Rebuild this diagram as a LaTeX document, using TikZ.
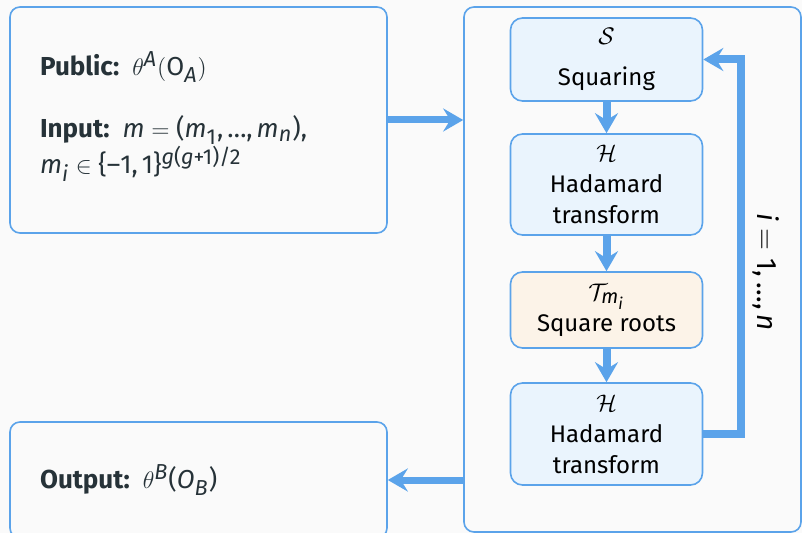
\documentclass[tikz,border=0pt]{standalone}
\usepackage{amsmath}
\usepackage{fontspec}
\setmainfont{Fira Sans}
\usepackage[italic]{mathastext}
\usepackage{xcolor}
\usetikzlibrary{arrows.meta}
\definecolor{customcolor1}{HTML}{5BA3EA}
\definecolor{customcolor2}{HTML}{EAF4FD}
\definecolor{customcolor3}{HTML}{FCF3E8}
\definecolor{customcolor4}{HTML}{FAFAFA}
\definecolor{customcolor5}{HTML}{263238}

\tikzset{
    outerbox/.style = {rectangle, draw = customcolor1, line width = 0.8pt, fill = customcolor4, rounded corners = 5pt},
    innerbox/.style = {rectangle, draw = customcolor1, line width = 0.8pt, fill = customcolor2, rounded corners = 6pt, minimum width = 96pt, align = center, font = \fontsize{12}{15.5}\selectfont},
    flow/.style = {-{Stealth[length = 10pt, width = 11.5pt, inset = 3.5pt]}, line width = 4pt, color = customcolor1},
    infotext/.style = {anchor = west, text = customcolor5, font = \fontsize{13}{15}\selectfont}
}

\begin{document}
\begin{tikzpicture}[x = 0.5pt, y = -0.5pt]
        % Background
        \fill [customcolor4] (0, 0) rectangle (802, 533);
        \useasboundingbox (0, 0) rectangle (802, 533);

        % Outer boxes
        \node [outerbox, minimum width = 188.5pt, minimum height = 113pt] (public) at (198.5, 120) {};
        \node [outerbox, minimum width = 188.5pt, minimum height = 58pt] (output) at (198.5, 480) {};
        \node [outerbox, minimum width = 168.5pt, minimum height = 262.5pt] (loop) at (632.5, 269.5) {};

        % Inner boxes
        \node [innerbox, minimum height = 41.5pt] (sq) at (606.5, 59.5) {$\mathcal{S}$\\[5pt]Squaring};
        \node [innerbox, minimum height = 50.5pt] (hada) at (606.5, 184.5) {$\mathcal{H}$\\Hadamard\\transform};
        \node [innerbox, fill = customcolor3, minimum height = 38pt] (sqrt) at (606.5, 310) {$\mathcal{T}_{m_i}$\\Square roots};
        \node [innerbox, minimum height = 51pt] (hadb) at (606.5, 434) {$\mathcal{H}$\\Hadamard\\transform};

        % Texts
        \node [infotext] (pub) at (33, 67) {\textbf{Public:}\enspace$\theta^A(\mathrm{O}_A)$};
        \node [infotext] (inp) at (33, 130) {\textbf{Input:}\enspace$m = \text{(}m_{\text{1}}, \text{\textellipsis}, m_n\text{)}$,};
        \node [infotext] (rng) at (33, 164) {$m_i \in \{\text{$-$1}, \text{1}\}^{\text{$g$(${g}$+1)/2}}$};
        \node [infotext] (out) at (33, 480) {\textbf{Output:}\enspace$\theta^B\text{(}O_B\text{)}$};

        % Draw the links
        \draw [flow, line width = 3.5pt] (public.east) -- (public.east -| loop.west);
        \draw [flow, line width = 3.5pt] (output.east -| loop.west) -- (output.east);
        \draw [flow] (sq) -- (hada);
        \draw [flow] (hada) -- (sqrt);
        \draw [flow] (sqrt) -- (hadb);
        \draw [flow] (hadb.east) -- ++(38, 0) |- (sq.east);

        % Loop index
        \node [rotate = -90, font = \fontsize{14}{16}\selectfont] (idx) at (766, 272) {$i = \text{1}, \text{\textellipsis}, n$};

    \end{tikzpicture}
\end{document}
